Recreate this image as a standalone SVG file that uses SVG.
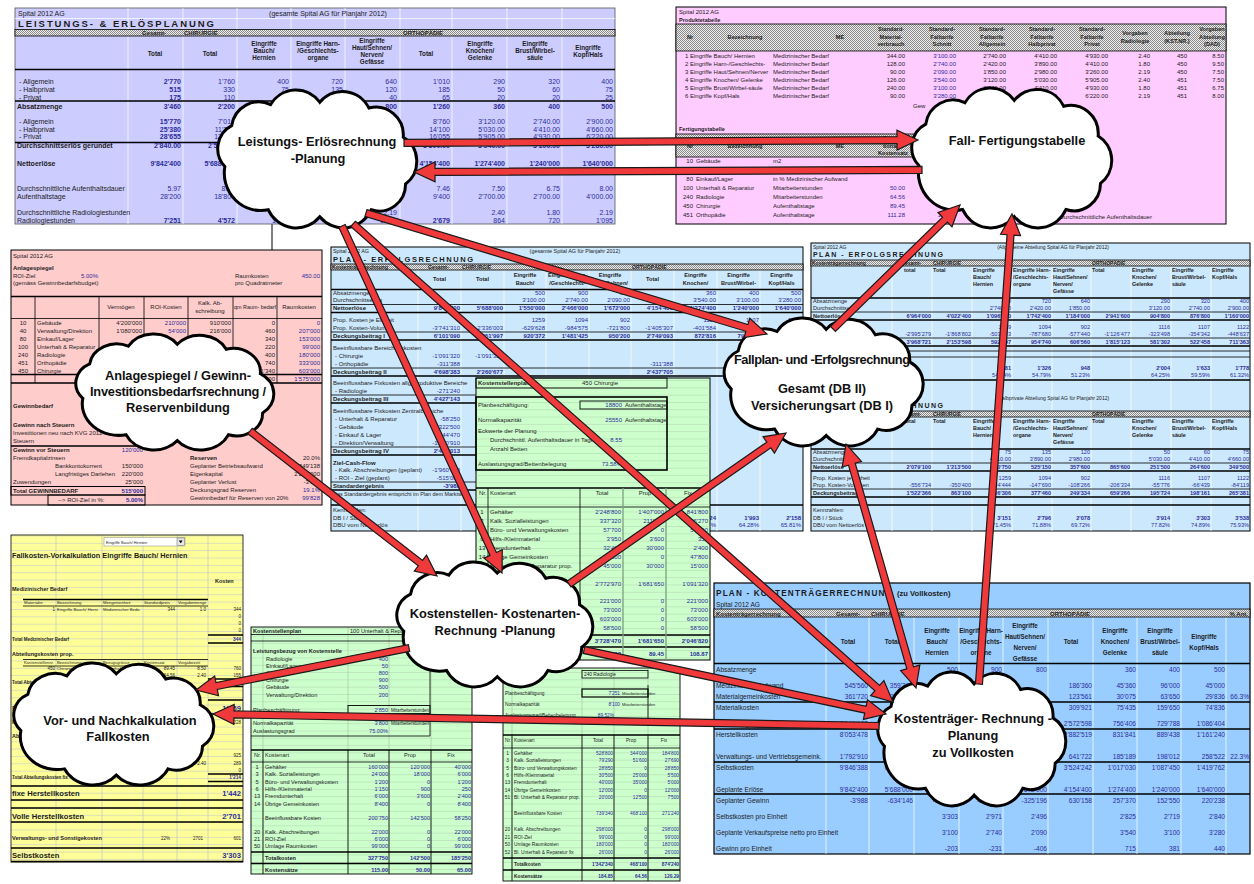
<svg xmlns="http://www.w3.org/2000/svg" width="1254" height="884" viewBox="0 0 1254 884">
<defs>
<style>
text{font-family:"Liberation Sans",Arial,Helvetica,sans-serif;font-size:6px;fill:#1c1c1c}
.s7 text{font-size:7px}
.s6 text{font-size:6px}
.s56 text{font-size:5.6px}
.s55 text{font-size:5.5px}
.s48 text{font-size:4.8px}
.s66 text{font-size:6.6px}
.s58 text{font-size:5.6px}
text.b,tspan.b{font-weight:700}
text.e{text-anchor:end}
text.m{text-anchor:middle}
text.v{fill:#2d2d9b;text-anchor:end}
text.h{font-weight:700;text-anchor:middle;font-size:6.3px}
text.hs{font-weight:700;font-size:5.4px}
text.cl{font-size:12.8px;font-weight:700;text-anchor:middle;fill:#111}
.ar{fill:#f0393b;stroke:#1a1a1a;stroke-width:1.2;stroke-linejoin:miter}
.cloud{fill:#fff;stroke:#000;stroke-width:3;vector-effect:non-scaling-stroke}
.ln{stroke:#000;stroke-width:0.8;fill:none}
.tk{stroke:#000;stroke-width:1.5;fill:none}
.gl{stroke:#fff;stroke-width:0.7;fill:none}
.gg{stroke:#b7bed6;stroke-width:0.6;fill:none}
.gv{stroke:#9fbf9f;stroke-width:0.6;fill:none}
.band{fill:url(#hatch);stroke:#000;stroke-width:0.8}
</style>
<pattern id="hatch" width="2" height="2" patternUnits="userSpaceOnUse"><rect width="2" height="2" fill="#ececec"/><rect width="1" height="1" fill="#8c8c8c"/><rect x="1" y="1" width="1" height="1" fill="#8c8c8c"/></pattern>
<pattern id="yg" x="0" y="535.5" width="300" height="7.35" patternUnits="userSpaceOnUse"><path d="M0 0.3H300" stroke="#b7bed6" stroke-width="0.6"/></pattern>
<pattern id="gg" x="0" y="0.5" width="300" height="7.3" patternUnits="userSpaceOnUse"><path d="M0 0.3H300" stroke="#a9c9a9" stroke-width="0.5"/></pattern>
<path id="cl" class="cloud" d="M22,75 A22,22 0 0 1 28,40 A24,24 0 0 1 62,22 A26,26 0 0 1 105,20 A26,26 0 0 1 148,25 A24,24 0 0 1 178,50 A24,24 0 0 1 180,90 A23,23 0 0 1 150,112 A27,27 0 0 1 105,118 A27,27 0 0 1 60,112 A32,32 0 0 1 22,75 Z"/>
</defs>
<rect width="1254" height="884" fill="#fff"/>
<path d="M272 224V250" stroke="#000" stroke-width="1"/>

<!-- Panel 1: Leistungs- & Erlösplanung -->
<g id="p1" class="s7">
<rect x="15" y="8" width="600" height="216" fill="#ccccff" stroke="#555" stroke-width="0.8"/>
<path class="gl" d="M128 8V224M183 8V224M237 8V224M291 8V224M345 8V224M400 8V224M452 8V224M507 8V224M562 8V224M15 18.5H615"/>
<text x="18" y="15.5">Spital 2012 AG</text>
<text class="m" x="328" y="15.5">(gesamte Spital AG für Planjahr 2012)</text>
<text class="b" x="18" y="27.3" style="font-size:9.5px" textLength="196">LEISTUNGS- &amp; ERLÖSPLANUNG</text>
<rect class="band" x="15" y="29.5" width="600" height="6.5"/>
<text class="b" x="142" y="35" style="font-size:6px">Gesamt-</text>
<text class="b" x="184" y="35" style="font-size:6px">CHIRURGIE</text>
<text class="b" x="403" y="35" style="font-size:6px">ORTHOPÄDIE</text>
<path class="tk" d="M15 69.5H615M15 101H615M15 142.5H615"/>
<text class="h" x="155" y="56">Total</text>
<text class="h" x="210" y="56">Total</text>
<text class="h" x="264" y="46">Eingriffe<tspan x="264" dy="7">Bauch/</tspan><tspan x="264" dy="7">Hernien</tspan></text>
<text class="h" x="318" y="46">Eingriffe Harn-<tspan x="318" dy="7">/Geschlechts-</tspan><tspan x="318" dy="7">organe</tspan></text>
<text class="h" x="372" y="43">Eingriffe<tspan x="372" dy="7">Haut/Sehnen/</tspan><tspan x="372" dy="7">Nerven/</tspan><tspan x="372" dy="7">Gefässe</tspan></text>
<text class="h" x="426" y="56">Total</text>
<text class="h" x="480" y="46">Eingriffe<tspan x="480" dy="7">Knochen/</tspan><tspan x="480" dy="7">Gelenke</tspan></text>
<text class="h" x="535" y="46">Eingriffe<tspan x="535" dy="7">Brust/Wirbel-</tspan><tspan x="535" dy="7">säule</tspan></text>
<text class="h" x="588" y="50">Eingriffe<tspan x="588" dy="7">Kopf/Hals</tspan></text>
<text x="19" y="84">- Allgemein</text>
<text x="19" y="91.5">- Halbprivat</text>
<text x="19" y="99.5">- Privat</text>
<text class="b" x="17" y="109">Absatzmenge</text>
<text x="19" y="124">- Allgemein</text>
<text x="19" y="131.5">- Halbprivat</text>
<text x="19" y="138.5">- Privat</text>
<text class="b" x="17" y="148">Durchschnittserlös gerundet</text>
<text class="b" x="17" y="165.5">Nettoerlöse</text>
<text x="17" y="190.5">Durchschnittliche Aufenthaltsdauer</text>
<text x="17" y="198.5">Aufenthaltstage</text>
<text x="17" y="214.5">Durchschnittliche Radiologiestunden</text>
<text x="17" y="222.5">Radiologiestunden</text>
<text class="v" y="84"><tspan class="b" x="181">2'770</tspan><tspan x="235">1'760</tspan><tspan x="289">400</tspan><tspan x="343">720</tspan><tspan x="397">640</tspan><tspan x="450">1'010</tspan><tspan x="505">290</tspan><tspan x="560">320</tspan><tspan x="613">400</tspan></text>
<text class="v" y="91.5"><tspan class="b" x="181">515</tspan><tspan x="235">330</tspan><tspan x="289">75</tspan><tspan x="343">135</tspan><tspan x="397">120</tspan><tspan x="450">185</tspan><tspan x="505">50</tspan><tspan x="560">60</tspan><tspan x="613">75</tspan></text>
<text class="v" y="99.5"><tspan class="b" x="181">175</tspan><tspan x="235">110</tspan><tspan x="289">25</tspan><tspan x="343">45</tspan><tspan x="397">40</tspan><tspan x="450">65</tspan><tspan x="505">20</tspan><tspan x="560">20</tspan><tspan x="613">25</tspan></text>
<text class="v b" y="109"><tspan x="181">3'460</tspan><tspan x="235">2'200</tspan><tspan x="289">500</tspan><tspan x="343">900</tspan><tspan x="397">800</tspan><tspan x="450">1'260</tspan><tspan x="505">360</tspan><tspan x="560">400</tspan><tspan x="613">500</tspan></text>
<text class="v" y="124"><tspan class="b" x="181">15'770</tspan><tspan x="235">7'010</tspan><tspan x="450">8'760</tspan><tspan x="505">3'120.00</tspan><tspan x="560">2'740.00</tspan><tspan x="613">2'900.00</tspan></text>
<text class="v" y="131.5"><tspan class="b" x="181">25'380</tspan><tspan x="235">11'280</tspan><tspan x="450">14'100</tspan><tspan x="505">5'030.00</tspan><tspan x="560">4'410.00</tspan><tspan x="613">4'660.00</tspan></text>
<text class="v" y="138.5"><tspan class="b" x="181">28'655</tspan><tspan x="235">12'600</tspan><tspan x="450">16'055</tspan><tspan x="505">5'905.00</tspan><tspan x="560">4'930.00</tspan><tspan x="613">6'220.00</tspan></text>
<text class="v b" y="148"><tspan x="181">2'840.00</tspan><tspan x="235">2'590.00</tspan><tspan x="450">3'300.00</tspan><tspan x="505">3'540.00</tspan><tspan x="560">3'100.00</tspan><tspan x="613">3'280.00</tspan></text>
<text class="v b" y="165.5"><tspan x="181">9'842'400</tspan><tspan x="235">5'688'000</tspan><tspan x="450">4'154'400</tspan><tspan x="505">1'274'400</tspan><tspan x="560">1'240'000</tspan><tspan x="613">1'640'000</tspan></text>
<text class="v" y="190.5"><tspan x="181">5.97</tspan><tspan x="235">8.55</tspan><tspan x="450">7.46</tspan><tspan x="505">7.50</tspan><tspan x="560">6.75</tspan><tspan x="613">8.00</tspan></text>
<text class="v" y="198.5"><tspan x="181">28'200</tspan><tspan x="235">18'800</tspan><tspan x="450">9'400</tspan><tspan x="505">2'700.00</tspan><tspan x="560">2'700.00</tspan><tspan x="613">4'000.00</tspan></text>
<text class="v" y="214.5"><tspan x="289">2.40</tspan><tspan x="343">1.80</tspan><tspan x="397">2.19</tspan><tspan x="505">2.40</tspan><tspan x="560">1.80</tspan><tspan x="613">2.19</tspan></text>
<text class="v" y="222.5"><tspan class="b" x="181">7'251</tspan><tspan class="b" x="235">4'572</tspan><tspan x="289">1'200</tspan><tspan x="343">1'620</tspan><tspan x="397">1'752</tspan><tspan class="b" x="450">2'679</tspan><tspan x="505">864</tspan><tspan x="560">720</tspan><tspan x="613">1'095</tspan></text>
</g>

<!-- Panel 2: Produktetabelle / Fertigungstabelle -->
<g id="p2" class="s6">
<rect x="676" y="7" width="550" height="217" fill="#ffccff" stroke="#000" stroke-width="1"/>
<text x="679" y="14">Spital 2012 AG</text>
<text class="b" x="679" y="22" style="font-size:5.5px">Produktetabelle</text>
<rect class="band" x="676" y="24" width="550" height="27"/>
<text class="h" style="font-size:5.6px" x="690" y="39">Nr</text>
<text class="h" style="font-size:5.6px" x="745" y="39">Bezeichnung</text>
<text class="h" style="font-size:5.6px" x="840" y="39">ME</text>
<text class="h" style="font-size:5.6px" x="891" y="31">Standard-<tspan x="891" dy="7.5">Material-</tspan><tspan x="891" dy="7.5">verbrauch</tspan></text>
<text class="h" style="font-size:5.6px" x="942" y="31">Standard-<tspan x="942" dy="7.5">Falltarife</tspan><tspan x="942" dy="7.5">Schnitt</tspan></text>
<text class="h" style="font-size:5.6px" x="992" y="31">Standard-<tspan x="992" dy="7.5">Falltarife</tspan><tspan x="992" dy="7.5">Allgemein</tspan></text>
<text class="h" style="font-size:5.6px" x="1042" y="31">Standard-<tspan x="1042" dy="7.5">Falltarife</tspan><tspan x="1042" dy="7.5">Halbprivat</tspan></text>
<text class="h" style="font-size:5.6px" x="1092" y="31">Standard-<tspan x="1092" dy="7.5">Falltarife</tspan><tspan x="1092" dy="7.5">Privat</tspan></text>
<text class="h" style="font-size:5.6px" x="1135" y="35">Vorgaben<tspan x="1135" dy="7.5">Radiologie</tspan></text>
<text class="h" style="font-size:5.6px" x="1177" y="35">Abteilung<tspan x="1177" dy="7.5">(KST.NR.)</tspan></text>
<text class="h" style="font-size:5.6px" x="1212" y="31">Vorgaben<tspan x="1212" dy="7.5">Abteilung</tspan><tspan x="1212" dy="7.5">(DAD)</tspan></text>
<text x="685" y="58">1 Eingriffe Bauch/ Hernien</text>
<text x="685" y="66">2 Eingriffe Harn-/Geschlechts-</text>
<text x="685" y="74">3 Eingriffe Haut/Sehnen/Nerver</text>
<text x="685" y="82">4 Eingriffe Knochen/ Gelenke</text>
<text x="685" y="90">5 Eingriffe Brust/Wirbel-säule</text>
<text x="685" y="98">6 Eingriffe Kopf/Hals</text>
<text x="773" y="58">Medizinischer Bedarf<tspan x="773" dy="8">Medizinischer Bedarf</tspan><tspan x="773" dy="8">Medizinischer Bedarf</tspan><tspan x="773" dy="8">Medizinischer Bedarf</tspan><tspan x="773" dy="8">Medizinischer Bedarf</tspan><tspan x="773" dy="8">Medizinischer Bedarf</tspan></text>
<text class="e" y="58"><tspan x="905">344.00</tspan><tspan x="1006">2'740.00</tspan><tspan x="1057">4'410.00</tspan><tspan x="1108">4'930.00</tspan><tspan x="1150">2.40</tspan><tspan x="1187">450</tspan><tspan x="1224">8.50</tspan></text>
<text class="e" y="66"><tspan x="905">128.00</tspan><tspan x="1006">2'420.00</tspan><tspan x="1057">3'890.00</tspan><tspan x="1108">4'410.00</tspan><tspan x="1150">1.80</tspan><tspan x="1187">450</tspan><tspan x="1224">9.50</tspan></text>
<text class="e" y="74"><tspan x="905">90.00</tspan><tspan x="1006">1'850.00</tspan><tspan x="1057">2'980.00</tspan><tspan x="1108">3'260.00</tspan><tspan x="1150">2.19</tspan><tspan x="1187">450</tspan><tspan x="1224">7.50</tspan></text>
<text class="e" y="82"><tspan x="905">126.00</tspan><tspan x="1006">3'120.00</tspan><tspan x="1057">5'030.00</tspan><tspan x="1108">5'905.00</tspan><tspan x="1150">2.40</tspan><tspan x="1187">451</tspan><tspan x="1224">7.50</tspan></text>
<text class="e" y="90"><tspan x="905">240.00</tspan><tspan x="1006">2'740.00</tspan><tspan x="1057">4'410.00</tspan><tspan x="1108">4'930.00</tspan><tspan x="1150">1.80</tspan><tspan x="1187">451</tspan><tspan x="1224">6.75</tspan></text>
<text class="e" y="98"><tspan x="905">90.00</tspan><tspan x="1006">2'900.00</tspan><tspan x="1057">4'660.00</tspan><tspan x="1108">6'220.00</tspan><tspan x="1150">2.19</tspan><tspan x="1187">451</tspan><tspan x="1224">8.00</tspan></text>
<text class="v" x="956" y="58">3'100.00<tspan x="956" dy="8">2'740.00</tspan><tspan x="956" dy="8">2'090.00</tspan><tspan x="956" dy="8">3'540.00</tspan><tspan x="956" dy="8">3'100.00</tspan><tspan x="956" dy="8">3'280.00</tspan></text>
<text x="913" y="108">Gew</text>
<text class="b" x="679" y="131" style="font-size:5.5px">Fertigungstabelle</text>
<rect class="band" x="676" y="134" width="290" height="23"/>
<text class="h" style="font-size:5.6px" x="690" y="148">Nr</text>
<text class="h" style="font-size:5.6px" x="745" y="148">Bezeichnung</text>
<text class="h" style="font-size:5.6px" x="840" y="148">ME</text>
<text class="h" style="font-size:5.6px" x="893" y="140">Propor-<tspan x="893" dy="7.5">tionaler</tspan><tspan x="893" dy="7.5">Kostensatz</tspan></text>
<text class="e" x="693" y="163">10<tspan x="693" dy="9">40</tspan><tspan x="693" dy="9">80</tspan><tspan x="693" dy="9">100</tspan><tspan x="693" dy="9">240</tspan><tspan x="693" dy="9">450</tspan><tspan x="693" dy="9">451</tspan></text>
<text x="696" y="163">Gebäude<tspan x="696" dy="9">Verwaltung/Direktion</tspan><tspan x="696" dy="9">Einkauf/Lager</tspan><tspan x="696" dy="9">Unterhalt &amp; Reparatur</tspan><tspan x="696" dy="9">Radiologie</tspan><tspan x="696" dy="9">Chirurgie</tspan><tspan x="696" dy="9">Orthopädie</tspan></text>
<text x="773" y="163">m2<tspan x="773" dy="9">in % Herstellkosten</tspan><tspan x="773" dy="9">in % Medizinischer Aufwand</tspan><tspan x="773" dy="9">Mitarbeiterstunden</tspan><tspan x="773" dy="9">Mitarbeiterstunden</tspan><tspan x="773" dy="9">Aufenthaltstage</tspan><tspan x="773" dy="9">Aufenthaltstage</tspan></text>
<text class="v" x="905" y="190">50.00<tspan x="905" dy="9">64.56</tspan><tspan x="905" dy="9">89.45</tspan><tspan x="905" dy="9">111.28</tspan></text>
<text class="v" x="956" y="172">22.26%<tspan x="956" dy="9">66.30%</tspan><tspan x="956" dy="9">65.00</tspan><tspan x="956" dy="9">120.29</tspan><tspan x="956" dy="9">108.87</tspan><tspan x="956" dy="9">109.72</tspan></text>
<text x="1040" y="219">DAD = Durchschnittliche Aufenthaltsdauer</text>
</g>

<!-- Panel 3: Anlagespiegel -->
<g id="p3" class="s6">
<rect x="11" y="250" width="311" height="255" fill="#ffcccc" stroke="#000" stroke-width="1"/>
<text x="13" y="258">Spital 2012 AG</text>
<text class="b" x="13" y="270">Anlagespiegel</text>
<text x="13" y="277.5">ROI-Ziel</text>
<text class="v" x="98" y="277.5">5.00%</text>
<text x="13" y="285">(gemäss Gewinnbedarfsbudget)</text>
<text x="235" y="277.5">Raumkosten</text>
<text class="v" x="320" y="277.5">450.00</text>
<text x="235" y="285">pro Quadratmeter</text>
<path class="tk" d="M11 296.5H322M11 374.5H322M11 383H322"/>
<path class="ln" d="M11 318.5H322M35 296.5V383M99 296.5V383M144 296.5V383M188 296.5V383M233 296.5V383M277 296.5V383"/>
<text class="m" x="121" y="309">Vermögen</text>
<text class="m" x="166" y="309">ROI-Kosten</text>
<text class="m" x="210" y="305">Kalk. Ab-<tspan x="210" dy="8">schreibung</tspan></text>
<text class="m" x="255" y="309" style="font-size:5.4px">qm Raum- bedarf</text>
<text class="m" x="299" y="309">Raumkosten</text>
<text class="m" x="23" y="324.5">10<tspan x="23" dy="8">40</tspan><tspan x="23" dy="8">80</tspan><tspan x="23" dy="8">100</tspan><tspan x="23" dy="8">240</tspan><tspan x="23" dy="8">451</tspan><tspan x="23" dy="8">450</tspan></text>
<text x="37" y="324.5">Gebäude<tspan x="37" dy="8">Verwaltung/Direktion</tspan><tspan x="37" dy="8">Einkauf/Lager</tspan><tspan x="37" dy="8">Unterhalt &amp; Reparatur</tspan><tspan x="37" dy="8">Radiologie</tspan><tspan x="37" dy="8">Orthopädie</tspan><tspan x="37" dy="8">Chirurgie</tspan></text>
<text class="e" y="324.5"><tspan x="142">4'200'000</tspan><tspan x="231">910'000</tspan><tspan x="275">0</tspan></text>
<text class="e" y="332.5"><tspan x="142">1'080'000</tspan><tspan x="231">216'000</tspan><tspan x="275">460</tspan></text>
<text class="e" x="275" y="340.5">340<tspan x="275" dy="8">220</tspan><tspan x="275" dy="8">400</tspan><tspan x="275" dy="8">740</tspan><tspan x="275" dy="8">1'340</tspan><tspan x="275" dy="8">3'500</tspan></text>
<text class="v" x="186" y="324.5">210'000<tspan x="186" dy="8">54'000</tspan></text>
<text class="v" x="320" y="324.5">0<tspan x="320" dy="8">207'000</tspan><tspan x="320" dy="8">153'000</tspan><tspan x="320" dy="8">99'000</tspan><tspan x="320" dy="8">180'000</tspan><tspan x="320" dy="8">333'000</tspan><tspan x="320" dy="8">603'000</tspan><tspan x="320" dy="8">1'575'000</tspan></text>
<text class="b" x="13" y="408">Gewinnbedarf</text>
<text class="b" x="13" y="427">Gewinn nach Steuern</text>
<text x="13" y="435">Investitionen neu nach KVG 2012</text>
<text x="13" y="443">Steuern</text>
<path class="tk" d="M11 446H144"/>
<text class="b" x="13" y="452">Gewinn vor Steuern</text>
<text class="v" x="143" y="452">120'000</text>
<text x="13" y="460">Fremdkapitalzinsen</text>
<text x="55" y="468">Bankkontokorrent</text>
<text x="55" y="476">Langfristiges Darlehen</text>
<text x="13" y="484">Zuwendungen</text>
<text class="e" x="143" y="468">150'000<tspan x="143" dy="8">220'000</tspan><tspan x="143" dy="8">25'000</tspan></text>
<rect x="11" y="486.5" width="134" height="8.5" fill="none" stroke="#000" stroke-width="1"/>
<text class="b" x="13" y="493">Total GEWINNBEDARF</text>
<text class="v b" x="143" y="493">515'000</text>
<rect x="48" y="495" width="97" height="10" fill="none" stroke="#000" stroke-width="1"/>
<text x="58" y="502">--&gt; ROI-Ziel in %:</text>
<text class="v b" x="143" y="502">5.00%</text>
<text class="b" x="190" y="460">Reserven</text>
<text x="190" y="468">Geplanter Betriebsaufwand</text>
<text x="190" y="476">Eigenkapital</text>
<text x="190" y="484">Geplanter Verlust</text>
<text x="190" y="492">Deckungsgrad Reserven</text>
<text x="190" y="500">Gewinnbedarf für Reserven von  20%</text>
<text class="e" x="320" y="460">20.0%<tspan x="320" dy="8">9'849'138</tspan><tspan x="320" dy="8">2'250'000</tspan><tspan x="320" dy="8">-3'988</tspan></text>
<text class="v" x="320" y="492">19.1%<tspan x="320" dy="8">99'828</tspan></text>
</g>

<!-- Panel 4: Plan-Erfolgsrechnung gesamt -->
<g id="p4" class="s6">
<rect x="331" y="247" width="472" height="284" fill="#cce8fc" stroke="#000" stroke-width="1"/>
<path class="gl" d="M418 270V531M461 270V531M504 270V531M546 270V531M589 270V531M631 270V531M674 270V531M717 270V531M760 270V531"/>
<text x="333" y="252.5" style="font-size:5.4px">Spital 2012 AG</text>
<text class="m" x="575" y="252.5" style="font-size:5.4px">(gesamte Spital AG für Planjahr 2012)</text>
<text class="b" x="333" y="262" style="font-size:7.5px" textLength="140">PLAN - ERFOLGSRECHNUNG</text>
<rect class="band" x="331" y="264" width="472" height="6"/>
<text class="b" x="332" y="268.8" style="font-size:5.2px">Kostenträgerrechnung</text>
<text class="b" x="428" y="268.8" style="font-size:5.2px">Gesamt-</text>
<text class="b" x="462" y="268.8" style="font-size:5.2px">CHIRURGIE</text>
<text class="b" x="632" y="268.8" style="font-size:5.2px">ORTHOPÄDIE</text>
<text class="h" style="font-size:5.6px" x="439.5" y="281">Total</text>
<text class="h" style="font-size:5.6px" x="482.5" y="281">Total</text>
<text class="h" style="font-size:5.6px" x="525" y="277">Eingriffe<tspan x="525" dy="7.5">Bauch/</tspan></text>
<text class="h" style="font-size:5.6px" x="567.5" y="277">Eingriffe Harn-<tspan x="567.5" dy="7.5">/Geschlechts-</tspan></text>
<text class="h" style="font-size:5.6px" x="610" y="277">Eingriffe<tspan x="610" dy="7.5">Haut/Sehnen/</tspan></text>
<text class="h" style="font-size:5.6px" x="652.5" y="281">Total</text>
<text class="h" style="font-size:5.6px" x="695.5" y="277">Eingriffe<tspan x="695.5" dy="7.5">Knochen/</tspan></text>
<text class="h" style="font-size:5.6px" x="738.5" y="277">Eingriffe<tspan x="738.5" dy="7.5">Brust/Wirbel-</tspan></text>
<text class="h" style="font-size:5.6px" x="781.5" y="277">Eingriffe<tspan x="781.5" dy="7.5">Kopf/Hals</tspan></text>
<path class="tk" d="M331 289.5H803M331 312.5H803M331 340H803M331 376H803M331 403H476M331 455H476M331 490H476M331 505H803"/>
<path class="ln" d="M331 304.5H803M331 332H803M331 368H803M331 395H476M331 447H476M331 482H476"/>
<text x="333" y="295">Absatzmenge</text>
<text x="333" y="302">Durchschnittserlös</text>
<text class="b" x="333" y="310">Nettoerlöse</text>
<text x="333" y="322">Prop. Kosten je Einheit</text>
<text x="333" y="330">Prop. Kosten-Volumen</text>
<text class="b" x="333" y="338">Deckungsbeitrag I</text>
<text x="333" y="350">Beeinflussbare Bereichsfixkosten</text>
<text x="335" y="358">- Chirurgie</text>
<text x="335" y="366">- Orthopädie</text>
<text class="b" x="333" y="374">Deckungsbeitrag II</text>
<text x="333" y="385">Beeinflussbare Fixkosten allg. produktive Bereiche</text>
<text x="335" y="393">- Radiologie</text>
<text class="b" x="333" y="401">Deckungsbeitrag III</text>
<text x="333" y="413">Beeinflussbare Fixkosten Zentralbereiche</text>
<text x="335" y="421">- Unterhalt &amp; Reparatur</text>
<text x="335" y="429">- Gebäude</text>
<text x="335" y="437">- Einkauf &amp; Lager</text>
<text x="335" y="445">- Direktion/Verwaltung</text>
<text class="b" x="333" y="453">Deckungsbeitrag IV</text>
<text class="b" x="333" y="465">Ziel-Cash-Flow</text>
<text x="335" y="472">- Kalk. Abschreibungen (geplant)</text>
<text x="335" y="480">- ROI - Ziel (geplant)</text>
<text class="b" x="333" y="488">Standardergebnis</text>
<text x="333" y="496" style="font-size:5.4px">Das Standardergebnis entspricht im Plan dem Marktwert</text>
<text x="333" y="512">Kennzahlen:</text>
<text x="333" y="520">DB I / Stück</text>
<text x="333" y="527">DBU vom Nettoerlös</text>
<text class="v" y="295"><tspan x="545">500</tspan><tspan x="588">900</tspan><tspan x="630">800</tspan><tspan x="716">360</tspan><tspan x="759">400</tspan><tspan x="801">500</tspan></text>
<text class="v" y="302"><tspan x="545">3'100.00</tspan><tspan x="588">2'740.00</tspan><tspan x="630">2'090.00</tspan><tspan x="716">3'540.00</tspan><tspan x="759">3'100.00</tspan><tspan x="801">3'280.00</tspan></text>
<text class="v b" y="310"><tspan x="460">9'842'400</tspan><tspan x="503">5'688'000</tspan><tspan x="545">1'550'000</tspan><tspan x="588">2'466'000</tspan><tspan x="630">1'672'000</tspan><tspan x="673">4'154'400</tspan><tspan x="716">1'274'400</tspan><tspan x="759">1'240'000</tspan><tspan x="801">1'640'000</tspan></text>
<text class="v" y="322"><tspan x="545">1259</tspan><tspan x="588">1094</tspan><tspan x="630">902</tspan><tspan x="716">1116</tspan><tspan x="759">1107</tspan><tspan x="801">1122</tspan></text>
<text class="v" y="330"><tspan x="460">-3'741'310</tspan><tspan x="503">-2'336'003</tspan><tspan x="545">-629'628</tspan><tspan x="588">-984'575</tspan><tspan x="630">-721'800</tspan><tspan x="673">-1'405'307</tspan><tspan x="716">-401'584</tspan><tspan x="759">-442'808</tspan><tspan x="801">-560'915</tspan></text>
<text class="v b" y="338"><tspan x="460">6'101'090</tspan><tspan x="503">3'351'997</tspan><tspan x="545">920'372</tspan><tspan x="588">1'481'425</tspan><tspan x="630">950'200</tspan><tspan x="673">2'749'093</tspan><tspan x="716">872'816</tspan><tspan x="759">797'192</tspan><tspan x="801">1'079'085</tspan></text>
<text class="v" y="358"><tspan x="460">-1'091'320</tspan><tspan x="503">-1'091'320</tspan></text>
<text class="v" y="366"><tspan x="460">-311'388</tspan><tspan x="673">-311'388</tspan></text>
<text class="v b" y="374"><tspan x="460">4'698'383</tspan><tspan x="503">2'260'677</tspan><tspan x="673">2'437'705</tspan></text>
<text class="v" x="460" y="393">-271'240</text>
<text class="v b" x="460" y="401">4'427'143</text>
<text class="v" x="460" y="421">-58'250<tspan x="460" dy="8">-322'500</tspan><tspan x="460" dy="8">-244'470</tspan><tspan x="460" dy="8">-1'330'910</tspan></text>
<text class="v b" x="460" y="453">2'471'013</text>
<text class="v" x="460" y="472">-1'960'000<tspan x="460" y="480">-515'000</tspan></text>
<text class="v b" x="460" y="488">-3'988</text>
<text class="v b" y="520"><tspan x="716">24</tspan><tspan x="759">1'993</tspan><tspan x="801">2'158</tspan></text>
<text class="v" y="527"><tspan x="716">%</tspan><tspan x="759">64.28%</tspan><tspan x="801">65.81%</tspan></text>
</g>

<!-- Panel 5: Kostenstellenplan 450 Chirurgie -->
<g id="p5" class="s6">
<rect x="476" y="378" width="234" height="282" fill="#ccffcc" stroke="#000" stroke-width="1"/>
<rect x="476" y="378" width="234" height="282" fill="url(#gg)"/>
<rect x="476" y="378" width="191" height="10" fill="none" stroke="#000" stroke-width="0.9"/>
<text class="b" x="478" y="385">Kostenstellenplan</text>
<text x="582" y="385">450 Chirurgie</text>
<rect x="476" y="397" width="191" height="73" fill="none" stroke="#000" stroke-width="1.6"/>
<rect x="580" y="401" width="87" height="8" fill="none" stroke="#000" stroke-width="0.9"/>
<text x="478" y="407">Planbeschäftigung:</text>
<text class="v" x="622" y="407">18800<tspan x="622" y="422">25550</tspan></text>
<text x="625" y="407">Aufenthaltstage<tspan x="625" y="422">Aufenthaltstage</tspan></text>
<text x="478" y="422">Normalkapazität</text>
<text x="478" y="433">Eckwerte der Planung</text>
<text x="490" y="442">Durchschnittl. Aufenthaltsdauer in Tagen</text>
<text x="490" y="451">Anzahl Betten</text>
<text class="v" x="622" y="442">8.55</text>
<text x="478" y="466">Auslastungsgrad/Bettenbelegung</text>
<text class="v" x="622" y="466">73.58%</text>
<path class="tk" d="M476 488H710M476 635H710M476 647H710"/>
<path class="ln" d="M476 507H710M488 488V647M580 488V660"/>
<path d="M623 488V660M666 488V660" stroke="#7f9f7f" stroke-width="1.3"/>
<text x="479" y="495">Nr.</text>
<text x="490" y="495">Kostenart</text>
<text class="m" x="602" y="495">Total</text>
<text class="m" x="645" y="495">Prop</text>
<text class="m" x="688" y="495">Fix</text>
<text class="m" x="482" y="514">1<tspan x="482" dy="9">3</tspan><tspan x="482" dy="9">5</tspan><tspan x="482" dy="9">6</tspan><tspan x="482" dy="9">13</tspan><tspan x="482" dy="9">14</tspan><tspan x="482" dy="9">51</tspan></text>
<text x="490" y="514">Gehälter<tspan x="490" dy="9">Kalk. Sozialleistungen</tspan><tspan x="490" dy="9">Büro- und Verwaltungskosten</tspan><tspan x="490" dy="9">Hilfs-/Kleinmaterial</tspan><tspan x="490" dy="9">Fremdunterhalt</tspan><tspan x="490" dy="9">Übrige Gemeinkosten</tspan><tspan x="490" dy="9">Bl. Unterhalt &amp; Reparatur prop.</tspan></text>
<text class="v" x="621" y="514">2'248'800<tspan x="621" dy="9">337'320</tspan><tspan x="621" dy="9">57'700</tspan><tspan x="621" dy="9">3'950</tspan><tspan x="621" dy="9">32'400</tspan><tspan x="621" dy="9">47'800</tspan><tspan x="621" dy="9">45'000</tspan></text>
<text class="v" x="664" y="514">1'407'000<tspan x="664" dy="9">211'050</tspan><tspan x="664" dy="9">0</tspan><tspan x="664" dy="9">3'600</tspan><tspan x="664" dy="9">30'000</tspan><tspan x="664" dy="9">0</tspan><tspan x="664" dy="9">30'000</tspan></text>
<text class="v" x="708" y="514">841'800<tspan x="708" dy="9">126'270</tspan><tspan x="708" dy="9">57'700</tspan><tspan x="708" dy="9">350</tspan><tspan x="708" dy="9">2'400</tspan><tspan x="708" dy="9">47'800</tspan><tspan x="708" dy="9">15'000</tspan></text>
<text x="490" y="586">Beeinflussbare Kosten</text>
<text class="v" y="586"><tspan x="621">2'772'970</tspan><tspan x="664">1'681'650</tspan><tspan x="708">1'091'320</tspan></text>
<text class="m" x="482" y="603">20<tspan x="482" dy="9">21</tspan><tspan x="482" dy="9">50</tspan><tspan x="482" dy="9">52</tspan></text>
<text x="490" y="603">Kalk. Abschreibungen<tspan x="490" dy="9">ROI-Ziel</tspan><tspan x="490" dy="9">Umlage Raumkosten</tspan><tspan x="490" dy="9">Bl. Unterhalt &amp; Reparatur fix</tspan></text>
<text class="v" x="621" y="603">221'000<tspan x="621" dy="9">73'000</tspan><tspan x="621" dy="9">603'000</tspan><tspan x="621" dy="9">58'500</tspan></text>
<text class="v" x="664" y="603">0<tspan x="664" dy="9">0</tspan><tspan x="664" dy="9">0</tspan><tspan x="664" dy="9">0</tspan></text>
<text class="v" x="708" y="603">221'000<tspan x="708" dy="9">73'000</tspan><tspan x="708" dy="9">603'000</tspan><tspan x="708" dy="9">58'500</tspan></text>
<text class="b" x="490" y="643">Totalkosten</text>
<text class="v b" y="643"><tspan x="621">3'728'470</tspan><tspan x="664">1'681'650</tspan><tspan x="708">2'046'820</tspan></text>
<text class="b" x="490" y="656">Kostensätze</text>
<text class="v b" y="656"><tspan x="621">198.32</tspan><tspan x="664">89.45</tspan><tspan x="708">108.87</tspan></text>
</g>

<!-- Panel 6: Plan-Erfolgsrechnung Allgemein / Halbprivat -->
<g id="p6" class="s58">
<rect x="811" y="243" width="439" height="288" fill="#cce8fc" stroke="#000" stroke-width="1"/>
<path class="gl" d="M892 266V531M932 266V531M972 266V531M1012 266V531M1052 266V531M1091 266V531M1131 266V531M1171 266V531M1211 266V531"/>
<text x="813" y="248.5" style="font-size:5px">Spital 2012 AG</text>
<text class="m" x="1053" y="248.5" style="font-size:5px">(Allgemeine Abteilung Spital AG für Planjahr 2012)</text>
<text class="b" x="813" y="257" style="font-size:7px" textLength="130">PLAN - ERFOLGSRECHNUNG</text>
<rect class="band" x="811" y="260" width="439" height="6"/>
<text class="b" x="812" y="264.8" style="font-size:5px">Kostenträgerrechnung</text>
<text class="b" x="901" y="264.8" style="font-size:5px">Gesamt-</text>
<text class="b" x="933" y="264.8" style="font-size:5px">CHIRURGIE</text>
<text class="b" x="1092" y="264.8" style="font-size:5px">ORTHOPÄDIE</text>
<text class="hs" x="904" y="272">total</text>
<text class="hs" x="933" y="272">Total</text>
<text class="hs" x="973" y="272">Eingriffe<tspan x="973" dy="7">Bauch/</tspan><tspan x="973" dy="7">Hernien</tspan></text>
<text class="hs" x="1013" y="272">Eingriffe Harn-<tspan x="1013" dy="7">/Geschlechts-</tspan><tspan x="1013" dy="7">organe</tspan></text>
<text class="hs" x="1053" y="272">Eingriffe<tspan x="1053" dy="7">Haut/Sehnen/</tspan><tspan x="1053" dy="7">Nerven/</tspan><tspan x="1053" dy="7">Gefässe</tspan></text>
<text class="hs" x="1092" y="272">Total</text>
<text class="hs" x="1132" y="272">Eingriffe<tspan x="1132" dy="7">Knochen/</tspan><tspan x="1132" dy="7">Gelenke</tspan></text>
<text class="hs" x="1172" y="272">Eingriffe<tspan x="1172" dy="7">Brust/Wirbel-</tspan><tspan x="1172" dy="7">säule</tspan></text>
<text class="hs" x="1212" y="272">Eingriffe<tspan x="1212" dy="7">Kopf/Hals</tspan></text>
<path class="tk" d="M811 298H1250M811 320H1250M811 346H1250M811 380H1250M811 449H1250M811 471H1250M811 497H1250M811 505H1250"/>
<path class="ln" d="M811 312H1250M811 338H1250M811 351H1250M811 357H1250M811 463H1250M811 489H1250"/>
<text x="813" y="303">Absatzmenge</text>
<text x="813" y="310">Durchschnittserlös</text>
<text class="b" x="813" y="318">Nettoerlöse</text>
<text class="v" y="303"><tspan x="1011">400</tspan><tspan x="1051">720</tspan><tspan x="1090">640</tspan><tspan x="1170">290</tspan><tspan x="1210">320</tspan><tspan x="1249">400</tspan></text>
<text class="v" y="310"><tspan x="1011">2'740.00</tspan><tspan x="1051">2'420.00</tspan><tspan x="1090">1'850.00</tspan><tspan x="1170">3'120.00</tspan><tspan x="1210">2'740.00</tspan><tspan x="1249">2'900.00</tspan></text>
<text class="v b" y="318"><tspan x="931">6'964'000</tspan><tspan x="971">4'022'400</tspan><tspan x="1011">1'096'000</tspan><tspan x="1051">1'742'400</tspan><tspan x="1090">1'184'000</tspan><tspan x="1130">2'941'600</tspan><tspan x="1170">904'800</tspan><tspan x="1210">876'800</tspan><tspan x="1249">1'160'000</tspan></text>
<text class="v" y="329"><tspan x="1011">1259</tspan><tspan x="1051">1094</tspan><tspan x="1090">902</tspan><tspan x="1170">1116</tspan><tspan x="1210">1107</tspan><tspan x="1249">1122</tspan></text>
<text class="v" y="336"><tspan x="931">-2'995'279</tspan><tspan x="971">-1'868'802</tspan><tspan x="1011">-503'703</tspan><tspan x="1051">-787'680</tspan><tspan x="1090">-577'440</tspan><tspan x="1130">-1'126'477</tspan><tspan x="1170">-323'498</tspan><tspan x="1210">-354'342</tspan><tspan x="1249">-448'637</tspan></text>
<text class="v b" y="344"><tspan x="931">3'968'721</tspan><tspan x="971">2'153'598</tspan><tspan x="1011">592'297</tspan><tspan x="1051">954'740</tspan><tspan x="1090">606'560</tspan><tspan x="1130">1'815'123</tspan><tspan x="1170">581'302</tspan><tspan x="1210">522'458</tspan><tspan x="1249">711'363</tspan></text>
<text class="v b" y="370"><tspan x="1011">1'481</tspan><tspan x="1051">1'326</tspan><tspan x="1090">948</tspan><tspan x="1170">2'004</tspan><tspan x="1210">1'633</tspan><tspan x="1249">1'778</tspan></text>
<text class="v" y="377"><tspan x="1011">54.04%</tspan><tspan x="1051">54.79%</tspan><tspan x="1090">51.23%</tspan><tspan x="1170">64.25%</tspan><tspan x="1210">59.59%</tspan><tspan x="1249">61.32%</tspan></text>
<text class="m" x="1053" y="400" style="font-size:5px">(Halbprivate Abteilung Spital AG für Planjahr 2012)</text>
<text class="b" x="813" y="408" style="font-size:7px" textLength="130">PLAN - ERFOLGSRECHNUNG</text>
<rect class="band" x="811" y="411" width="439" height="6"/>
<text class="b" x="901" y="415.8" style="font-size:5px">Gesamt-</text>
<text class="b" x="933" y="415.8" style="font-size:5px">CHIRURGIE</text>
<text class="b" x="1092" y="415.8" style="font-size:5px">ORTHOPÄDIE</text>
<text class="hs" x="904" y="423">total</text>
<text class="hs" x="933" y="423">Total</text>
<text class="hs" x="973" y="423">Eingriffe<tspan x="973" dy="7">Bauch/</tspan><tspan x="973" dy="7">Hernien</tspan></text>
<text class="hs" x="1013" y="423">Eingriffe Harn-<tspan x="1013" dy="7">/Geschlechts-</tspan><tspan x="1013" dy="7">organe</tspan></text>
<text class="hs" x="1053" y="423">Eingriffe<tspan x="1053" dy="7">Haut/Sehnen/</tspan><tspan x="1053" dy="7">Nerven/</tspan><tspan x="1053" dy="7">Gefässe</tspan></text>
<text class="hs" x="1092" y="423">Total</text>
<text class="hs" x="1132" y="423">Eingriffe<tspan x="1132" dy="7">Knochen/</tspan><tspan x="1132" dy="7">Gelenke</tspan></text>
<text class="hs" x="1172" y="423">Eingriffe<tspan x="1172" dy="7">Brust/Wirbel-</tspan><tspan x="1172" dy="7">säule</tspan></text>
<text class="hs" x="1212" y="423">Eingriffe<tspan x="1212" dy="7">Kopf/Hals</tspan></text>
<text x="813" y="454">Absatzmenge</text>
<text x="813" y="461">Durchschnittserlös</text>
<text class="b" x="813" y="469">Nettoerlöse</text>
<text x="813" y="480">Prop. Kosten je Einheit</text>
<text x="813" y="487">Prop. Kosten-Volumen</text>
<text class="b" x="813" y="495">Deckungsbeitrag I</text>
<text x="813" y="512">Kennzahlen:</text>
<text x="813" y="520">DB I / Stück</text>
<text x="813" y="527">DBU vom Nettoerlös</text>
<text class="v" y="454"><tspan x="1011">75</tspan><tspan x="1051">135</tspan><tspan x="1090">120</tspan><tspan x="1170">50</tspan><tspan x="1210">60</tspan><tspan x="1249">75</tspan></text>
<text class="v" y="461"><tspan x="1011">4'410.00</tspan><tspan x="1051">3'890.00</tspan><tspan x="1090">2'980.00</tspan><tspan x="1170">5'030.00</tspan><tspan x="1210">4'410.00</tspan><tspan x="1249">4'660.00</tspan></text>
<text class="v b" y="469"><tspan x="931">2'079'100</tspan><tspan x="971">1'213'500</tspan><tspan x="1011">330'750</tspan><tspan x="1051">525'150</tspan><tspan x="1090">357'600</tspan><tspan x="1130">865'600</tspan><tspan x="1170">251'500</tspan><tspan x="1210">264'600</tspan><tspan x="1249">349'500</tspan></text>
<text class="v" y="480"><tspan x="1011">1259</tspan><tspan x="1051">1094</tspan><tspan x="1090">902</tspan><tspan x="1170">1116</tspan><tspan x="1210">1107</tspan><tspan x="1249">1122</tspan></text>
<text class="v" y="487"><tspan x="931">-556'734</tspan><tspan x="971">-350'400</tspan><tspan x="1011">-94'444</tspan><tspan x="1051">-147'690</tspan><tspan x="1090">-108'266</tspan><tspan x="1130">-206'334</tspan><tspan x="1170">-55'776</tspan><tspan x="1210">-66'439</tspan><tspan x="1249">-84'119</tspan></text>
<text class="v b" y="495"><tspan x="931">1'522'366</tspan><tspan x="971">863'100</tspan><tspan x="1011">236'306</tspan><tspan x="1051">377'460</tspan><tspan x="1090">249'334</tspan><tspan x="1130">659'266</tspan><tspan x="1170">195'724</tspan><tspan x="1210">198'161</tspan><tspan x="1249">265'381</tspan></text>
<text class="v b" y="520"><tspan x="1011">3'151</tspan><tspan x="1051">2'796</tspan><tspan x="1090">2'078</tspan><tspan x="1170">3'914</tspan><tspan x="1210">3'303</tspan><tspan x="1249">3'538</tspan></text>
<text class="v" y="527"><tspan x="1011">71.45%</tspan><tspan x="1051">71.88%</tspan><tspan x="1090">69.72%</tspan><tspan x="1170">77.82%</tspan><tspan x="1210">74.89%</tspan><tspan x="1249">75.93%</tspan></text>
</g>

<!-- Panel 7: Fallkosten-Vorkalkulation -->
<g id="p7" class="s55">
<rect x="11" y="535" width="232" height="327" fill="#ffff99"/>
<rect x="11" y="535" width="232" height="327" fill="url(#yg)"/>
<path class="gg" d="M56 535V862M102 535V862M143 535V862M177 535V862M208 535V862"/>
<rect x="11" y="535" width="232" height="327" fill="none" stroke="#000" stroke-width="0.8"/>
<rect x="104" y="537.5" width="81" height="8.5" fill="#fff" stroke="#888" stroke-width="0.5"/>
<text x="106" y="543.5" style="font-size:3.8px">Eingriffe Bauch/ Hernien</text>
<rect x="177" y="538" width="7.5" height="7.5" fill="#e8e8e8" stroke="#666" stroke-width="0.5"/>
<path d="M178.7 540.5h4l-2 2.8z" fill="#000"/>
<text class="b" x="12" y="557.5" style="font-size:7.3px">Fallkosten-Vorkalkulation Eingriffe Bauch/ Hernien</text>
<text class="b" x="215" y="583">Kosten</text>
<text class="b" x="12" y="591">Medizinischer Bedarf</text>
<path class="tk" d="M23 599.5H208"/>
<path class="ln" d="M23 606H208M23 659.5H208M23 666H208"/>
<text y="604" style="font-size:4.2px"><tspan x="24">Materialnr.</tspan><tspan x="57">Bezeichnung</tspan><tspan x="103">Mengeneinheit</tspan><tspan x="144">Standardpreis</tspan><tspan x="178">Vorgabemenge</tspan></text>
<text x="57" y="611" style="font-size:4.2px">Eingriffe Bauch/ Herni</text>
<text x="103" y="611" style="font-size:4.2px">Medizinischer Beda</text>
<text class="e" y="611" style="font-size:4.5px"><tspan x="55">1</tspan><tspan x="175">344</tspan><tspan x="206">1.0</tspan><tspan x="241">344</tspan></text>
<text class="e" x="241" y="618" style="font-size:4.5px">0<tspan x="241" dy="7">0</tspan><tspan x="241" dy="7">0</tspan></text>
<path class="tk" d="M208 635H243M208 643H243M208 679H243M208 686.5H243M208 700H243M208 714H243M208 774H243M208 781.5H243M11 786H243M11 800H243M11 808H243M11 822H243M11 848H243M11 861.5H243"/>
<text class="b" x="12" y="640.5" style="font-size:4.5px">Total Medizinischer Bedarf</text>
<text class="v b" x="241" y="640.5" style="font-size:4.8px">344</text>
<text class="b" x="12" y="656">Abteilungskosten prop.</text>
<text y="664" style="font-size:4.2px"><tspan x="24">Kostenstellennr.</tspan><tspan x="57">Bezeichnung</tspan><tspan x="103">Bezugsgrösse</tspan><tspan x="144">Kostensatz</tspan><tspan x="178">Vorgabezeit</tspan></text>
<text x="57" y="670" style="font-size:4.2px">Chirurgie<tspan x="57" dy="7">Radiologie</tspan></text>
<text x="103" y="670" style="font-size:4.2px">Aufenthaltstage<tspan x="103" dy="7">Mitarbeiterstunden</tspan></text>
<text class="e" y="670" style="font-size:4.5px"><tspan x="55">450</tspan><tspan x="175">89.45</tspan><tspan x="206">8.50</tspan><tspan x="241">760</tspan></text>
<text class="e" y="677" style="font-size:4.5px"><tspan x="55">240</tspan><tspan x="175">64.56</tspan><tspan x="206">2.40</tspan><tspan x="241">155</tspan></text>
<text class="b" x="12" y="684" style="font-size:4.5px">Total Abteilungskosten prop.</text>
<text class="v b" x="241" y="684" style="font-size:4.8px">915</text>
<text class="b" x="12" y="710.5" style="font-size:7.6px">Proportionale Herstellkosten</text>
<text class="v b" x="241" y="710.5" style="font-size:7.6px">1'259</text>
<text class="b" x="12" y="724" style="font-size:5px">Materialgemeinkosten</text>
<text class="e" x="241" y="724" style="font-size:4.5px">228</text>
<text class="b" x="12" y="738">Abteilungskosten fix</text>
<text class="e" x="241" y="757" style="font-size:4.5px">925</text>
<text class="e" y="764.5" style="font-size:4.5px"><tspan x="206">2.40</tspan><tspan x="241">289</tspan></text>
<text class="e" x="241" y="771.5" style="font-size:4.5px">0</text>
<text class="b" x="12" y="779" style="font-size:4.5px">Total Abteilungskosten fix</text>
<text class="v b" x="241" y="779" style="font-size:4.8px">1'214</text>
<text class="b" x="12" y="796" style="font-size:7.6px">fixe Herstellkosten</text>
<text class="v b" x="241" y="796" style="font-size:7.6px">1'442</text>
<text class="b" x="12" y="818.5" style="font-size:7.6px">Volle Herstellkosten</text>
<text class="v b" x="241" y="818.5" style="font-size:7.6px">2'701</text>
<text class="b" x="12" y="840" style="font-size:5.6px">Verwaltungs- und Sonstigekosten</text>
<text class="e" y="840" style="font-size:4.5px"><tspan x="170">22%</tspan><tspan x="203">2701</tspan><tspan x="241">601</tspan></text>
<text class="b" x="12" y="858" style="font-size:7.6px">Selbstkosten</text>
<text class="v b" x="241" y="858" style="font-size:7.6px">3'303</text>
</g>

<!-- Panel 8: Kostenstellenplan 100 Unterhalt & Reparatur -->
<g id="p8" class="s56">
<rect x="251" y="627" width="221" height="247" fill="#ccffcc"/>
<rect x="251" y="627" width="221" height="247" fill="url(#gg)"/>
<path class="gv" d="M263 627V874M348 627V874M389 627V874M431 627V874"/>
<rect x="251" y="627" width="221" height="247" fill="none" stroke="#000" stroke-width="0.9"/>
<path class="ln" d="M251 634.5H472M251 641H472M430 641V736M251 736H430M251 762H472M263 750V874M348 750V874M389 750V874M431 750V874"/>
<path class="tk" d="M251 750H472M251 852H472M251 863.5H472"/>
<text class="b" x="253" y="633">Kostenstellenplan</text>
<text x="350" y="633">100 Unterhalt &amp; Reparatur</text>
<text class="b" x="253" y="653">Leistungsbezug von Kostenstelle</text>
<text x="266" y="661">Radiologie<tspan x="266" dy="7">Einkauf/Lager</tspan><tspan x="266" dy="7">Orthopädie</tspan><tspan x="266" dy="7">Chirurgie</tspan><tspan x="266" dy="7">Gebäude</tspan><tspan x="266" dy="7.5">Verwaltung/Direktion</tspan></text>
<text class="v" x="388" y="661">400<tspan x="388" dy="7">50</tspan><tspan x="388" dy="7">800</tspan><tspan x="388" dy="7">900</tspan><tspan x="388" dy="7">500</tspan><tspan x="388" dy="7.5">200</tspan></text>
<rect x="348" y="705.5" width="82" height="8" fill="none" stroke="#000" stroke-width="0.9"/>
<text x="253" y="711.5">Planbeschäftigung:</text>
<text class="v" x="388" y="711.5">2'850<tspan x="388" y="725">3'800</tspan><tspan x="388" y="733">75.00%</tspan></text>
<text x="391" y="711.5" style="font-size:4.6px">Mitarbeiterstunden<tspan x="391" y="725">Mitarbeiterstunden</tspan></text>
<text x="253" y="725">Normalkapazität</text>
<text x="253" y="733">Auslastungsgrad</text>
<text x="254" y="757">Nr.</text>
<text x="265" y="757">Kostenart</text>
<text class="m" x="369" y="757">Total</text>
<text class="m" x="410" y="757">Prop</text>
<text class="m" x="451" y="757">Fix</text>
<text class="m" x="257" y="769">1<tspan x="257" dy="7.3">3</tspan><tspan x="257" dy="7.3">5</tspan><tspan x="257" dy="7.3">6</tspan><tspan x="257" dy="7.3">13</tspan><tspan x="257" dy="7.3">14</tspan></text>
<text x="265" y="769">Gehälter<tspan x="265" dy="7.3">Kalk. Sozialleistungen</tspan><tspan x="265" dy="7.3">Büro- und Verwaltungskosten</tspan><tspan x="265" dy="7.3">Hilfs-/Kleinmaterial</tspan><tspan x="265" dy="7.3">Fremdunterhalt</tspan><tspan x="265" dy="7.3">Übrige Gemeinkosten</tspan></text>
<text class="v" x="388" y="769">160'000<tspan x="388" dy="7.3">24'000</tspan><tspan x="388" dy="7.3">1'200</tspan><tspan x="388" dy="7.3">1'150</tspan><tspan x="388" dy="7.3">6'000</tspan><tspan x="388" dy="7.3">8'400</tspan></text>
<text class="v" x="430" y="769">120'000<tspan x="430" dy="7.3">18'000</tspan><tspan x="430" dy="7.3">0</tspan><tspan x="430" dy="7.3">900</tspan><tspan x="430" dy="7.3">3'600</tspan><tspan x="430" dy="7.3">0</tspan></text>
<text class="v" x="471" y="769">40'000<tspan x="471" dy="7.3">6'000</tspan><tspan x="471" dy="7.3">1'200</tspan><tspan x="471" dy="7.3">250</tspan><tspan x="471" dy="7.3">2'400</tspan><tspan x="471" dy="7.3">8'400</tspan></text>
<text x="265" y="820">Beeinflussbare Kosten</text>
<text class="v" y="820"><tspan x="388">200'750</tspan><tspan x="430">142'500</tspan><tspan x="471">58'250</tspan></text>
<text class="m" x="257" y="834">20<tspan x="257" dy="7">21</tspan><tspan x="257" dy="7">50</tspan></text>
<text x="265" y="834">Kalk. Abschreibungen<tspan x="265" dy="7">ROI-Ziel</tspan><tspan x="265" dy="7">Umlage Raumkosten</tspan></text>
<text class="v" x="388" y="834">22'000<tspan x="388" dy="7">6'000</tspan><tspan x="388" dy="7">99'000</tspan></text>
<text class="v" x="430" y="834">0<tspan x="430" dy="7">0</tspan><tspan x="430" dy="7">0</tspan></text>
<text class="v" x="471" y="834">22'000<tspan x="471" dy="7">6'000</tspan><tspan x="471" dy="7">99'000</tspan></text>
<text class="b" x="265" y="859.5">Totalkosten</text>
<text class="v b" y="859.5"><tspan x="388">327'750</tspan><tspan x="430">142'500</tspan><tspan x="471">185'250</tspan></text>
<text class="b" x="265" y="871.5">Kostensätze</text>
<text class="v b" y="871.5"><tspan x="388">115.00</tspan><tspan x="430">50.00</tspan><tspan x="471">65.00</tspan></text>
</g>

<!-- Panel 9: Kostenstellenplan 240 Radiologie -->
<g id="p9" class="s48">
<rect x="503" y="668" width="177" height="213" fill="#ccffcc"/>
<rect x="503" y="668" width="177" height="213" fill="url(#gg)"/>
<path class="gv" d="M512 668V881M582 668V881M614 668V881M648 668V881"/>
<rect x="503" y="668" width="177" height="213" fill="none" stroke="#000" stroke-width="0.9"/>
<rect x="582" y="670.5" width="66" height="7.5" fill="none" stroke="#000" stroke-width="0.8"/>
<text x="584" y="676">240 Radiologie</text>
<rect x="582" y="689" width="66" height="8" fill="none" stroke="#000" stroke-width="1.2"/>
<path class="ln" d="M503 720.5H648M648 685V720.5M512 735V881M582 735V881M614 735V881M648 735V881M503 748H680"/>
<path class="tk" d="M503 735H680M503 858H680M503 870H680"/>
<text x="505" y="694.5">Planbeschäftigung</text>
<text x="505" y="706">Normalkapazität</text>
<text x="505" y="717">Auslastungsgrad/Bettenbelegung</text>
<text class="v" x="620" y="694.5">7'251<tspan x="620" y="706">8'100</tspan><tspan x="614" y="717">89.52%</tspan></text>
<text x="622" y="694.5" style="font-size:4px">Mitarbeiterstunden<tspan x="622" y="706">Mitarbeiterstunden</tspan></text>
<text x="505" y="742">Nr.</text>
<text x="514" y="742">Kostenart</text>
<text class="m" x="598" y="742">Total</text>
<text class="m" x="631" y="742">Prop</text>
<text class="m" x="664" y="742">Fix</text>
<text class="m" x="507.5" y="755">1<tspan x="507.5" dy="7.3">3</tspan><tspan x="507.5" dy="7.3">5</tspan><tspan x="507.5" dy="7.3">6</tspan><tspan x="507.5" dy="7.3">13</tspan><tspan x="507.5" dy="7.3">14</tspan><tspan x="507.5" dy="7.3">51</tspan></text>
<text x="514" y="755">Gehälter<tspan x="514" dy="7.3">Kalk. Sozialleistungen</tspan><tspan x="514" dy="7.3">Büro- und Verwaltungskosten</tspan><tspan x="514" dy="7.3">Hilfs-/Kleinmaterial</tspan><tspan x="514" dy="7.3">Fremdunterhalt</tspan><tspan x="514" dy="7.3">Übrige Gemeinkosten</tspan><tspan x="514" dy="7.3">Bl. Unterhalt &amp; Reparatur prop.</tspan></text>
<text class="v" x="613" y="755">528'800<tspan x="613" dy="7.3">79'290</tspan><tspan x="613" dy="7.3">28'850</tspan><tspan x="613" dy="7.3">30'500</tspan><tspan x="613" dy="7.3">40'000</tspan><tspan x="613" dy="7.3">12'000</tspan><tspan x="613" dy="7.3">20'000</tspan></text>
<text class="v" x="647" y="755">344'000<tspan x="647" dy="7.3">51'600</tspan><tspan x="647" dy="7.3">0</tspan><tspan x="647" dy="7.3">25'000</tspan><tspan x="647" dy="7.3">35'000</tspan><tspan x="647" dy="7.3">0</tspan><tspan x="647" dy="7.3">12'500</tspan></text>
<text class="v" x="679" y="755">184'800<tspan x="679" dy="7.3">27'690</tspan><tspan x="679" dy="7.3">28'850</tspan><tspan x="679" dy="7.3">5'500</tspan><tspan x="679" dy="7.3">5'000</tspan><tspan x="679" dy="7.3">12'000</tspan><tspan x="679" dy="7.3">7'500</tspan></text>
<text x="514" y="815">Beeinflussbare Kosten</text>
<text class="v" y="815"><tspan x="613">739'340</tspan><tspan x="647">468'100</tspan><tspan x="679">271'240</tspan></text>
<text class="m" x="507.5" y="831">20<tspan x="507.5" dy="7.5">21</tspan><tspan x="507.5" dy="7.5">50</tspan><tspan x="507.5" dy="7.5">52</tspan></text>
<text x="514" y="831">Kalk. Abschreibungen<tspan x="514" dy="7.5">ROI-Ziel</tspan><tspan x="514" dy="7.5">Umlage Raumkosten</tspan><tspan x="514" dy="7.5">Bl. Unterhalt &amp; Reparatur fix</tspan></text>
<text class="v" x="613" y="831">298'000<tspan x="613" dy="7.5">99'000</tspan><tspan x="613" dy="7.5">180'000</tspan><tspan x="613" dy="7.5">26'000</tspan></text>
<text class="v" x="647" y="831">0<tspan x="647" dy="7.5">0</tspan><tspan x="647" dy="7.5">0</tspan><tspan x="647" dy="7.5">0</tspan></text>
<text class="v" x="679" y="831">298'000<tspan x="679" dy="7.5">99'000</tspan><tspan x="679" dy="7.5">180'000</tspan><tspan x="679" dy="7.5">26'000</tspan></text>
<text class="b" x="514" y="866">Totalkosten</text>
<text class="v b" y="866"><tspan x="613">1'342'340</tspan><tspan x="647">468'100</tspan><tspan x="679">874'240</tspan></text>
<text class="b" x="514" y="878">Kostensätze</text>
<text class="v b" y="878"><tspan x="613">184.85</tspan><tspan x="647">64.56</tspan><tspan x="679">120.29</tspan></text>
</g>

<!-- Panel 10: Plan-Kostenträgerrechnung zu Vollkosten -->
<g id="p10" class="s66">
<rect x="714" y="583" width="536" height="271" fill="#99ccff" stroke="#000" stroke-width="1.2"/>
<path class="gl" d="M826 617V854M869 617V854M914 617V854M959 617V854M1003 617V854M1048 617V854M1093 617V854M1137 617V854M1181 617V854M1226 617V854"/>
<text class="b" x="716" y="596" style="font-size:8.2px" textLength="176">PLAN - KOSTENTRÄGERRECHNUNG</text>
<text class="b" x="897" y="596" style="font-size:7.6px">(zu Vollkosten)</text>
<text x="716" y="606.5">Spital 2012 AG</text>
<rect class="band" x="714" y="609" width="536" height="8"/>
<text class="b" x="716" y="615.5" style="font-size:6px">Kostenträgerrechnung</text>
<text class="b" x="836" y="615.5" style="font-size:6px">Gesamt-</text>
<text class="b" x="871" y="615.5" style="font-size:6px">CHIRURGIE</text>
<text class="b" x="1050" y="615.5" style="font-size:6px">ORTHOPÄDIE</text>
<text class="b e" x="1248" y="615.5" style="font-size:6px">% Ant.</text>
<text class="h" x="848" y="643.5">Total</text>
<text class="h" x="892" y="643.5">Total</text>
<text class="h" x="937" y="632.5">Eingriffe<tspan x="937" dy="11">Bauch/</tspan><tspan x="937" dy="11">Hernien</tspan></text>
<text class="h" x="981" y="632.5">Eingriffe Harn-<tspan x="981" dy="11">/Geschlechts-</tspan><tspan x="981" dy="11">organe</tspan></text>
<text class="h" x="1025" y="627.5">Eingriffe<tspan x="1025" dy="11">Haut/Sehnen/</tspan><tspan x="1025" dy="11">Nerven/</tspan><tspan x="1025" dy="11">Gefässe</tspan></text>
<text class="h" x="1071" y="643.5">Total</text>
<text class="h" x="1115" y="632.5">Eingriffe<tspan x="1115" dy="11">Knochen/</tspan><tspan x="1115" dy="11">Gelenke</tspan></text>
<text class="h" x="1160" y="632.5">Eingriffe<tspan x="1160" dy="11">Brust/Wirbel-</tspan><tspan x="1160" dy="11">säule</tspan></text>
<text class="h" x="1204" y="638.5">Eingriffe<tspan x="1204" dy="11">Kopf/Hals</tspan></text>
<path class="tk" d="M714 663.5H1250M714 702H1250M714 729H1250M714 762H1250M714 794H1250"/>
<text x="716" y="671.5">Absatzmenge</text>
<text x="716" y="688">Medizinischer Aufwand</text>
<text x="716" y="699">Materialgemeinkosten</text>
<text x="716" y="710">Materialkosten</text>
<text x="716" y="726">Volle Fertigungskosten</text>
<text x="716" y="737">Herstellkosten</text>
<text x="716" y="759">Verwaltungs- und Vertriebsgemeink.</text>
<text x="716" y="770">Selbstkosten</text>
<text x="716" y="792">Geplante Erlöse</text>
<text x="716" y="803">Geplanter Gewinn</text>
<text x="716" y="819">Selbstkosten pro Einheit</text>
<text x="716" y="835">Geplante Verkaufspreise netto pro Einheit</text>
<text x="716" y="851">Gewinn pro Einheit</text>
<text class="v" y="671.5"><tspan x="958">500</tspan><tspan x="1002">900</tspan><tspan x="1047">800</tspan><tspan x="1136">360</tspan><tspan x="1180">400</tspan><tspan x="1225">500</tspan></text>
<text class="v" y="688"><tspan x="868">545'560</tspan><tspan x="913">359'200</tspan><tspan x="1092">186'360</tspan><tspan x="1136">45'360</tspan><tspan x="1180">96'000</tspan><tspan x="1225">45'000</tspan></text>
<text class="v" y="699"><tspan x="868">361'720</tspan><tspan x="913">238'159</tspan><tspan x="1092">123'561</tspan><tspan x="1136">30'075</tspan><tspan x="1180">63'650</tspan><tspan x="1225">29'836</tspan><tspan x="1249">66.3%</tspan></text>
<text class="v" y="710"><tspan x="868">907'280</tspan><tspan x="913">597'359</tspan><tspan x="1092">309'921</tspan><tspan x="1136">75'435</tspan><tspan x="1180">159'650</tspan><tspan x="1225">74'836</tspan></text>
<text class="v" y="726"><tspan x="868">7'146'198</tspan><tspan x="913">4'573'600</tspan><tspan x="1092">2'572'598</tspan><tspan x="1136">756'406</tspan><tspan x="1180">729'788</tspan><tspan x="1225">1'086'404</tspan></text>
<text class="v" y="737"><tspan x="868">8'053'478</tspan><tspan x="913">5'170'959</tspan><tspan x="1092">2'882'519</tspan><tspan x="1136">831'841</tspan><tspan x="1180">889'438</tspan><tspan x="1225">1'161'240</tspan></text>
<text class="v" y="759"><tspan x="868">1'792'910</tspan><tspan x="913">1'151'188</tspan><tspan x="1092">641'722</tspan><tspan x="1136">185'189</tspan><tspan x="1180">198'012</tspan><tspan x="1225">258'522</tspan><tspan x="1249">22.3%</tspan></text>
<text class="v" y="770"><tspan x="868">9'846'388</tspan><tspan x="913">6'322'146</tspan><tspan x="1092">3'524'242</tspan><tspan x="1136">1'017'030</tspan><tspan x="1180">1'087'450</tspan><tspan x="1225">1'419'762</tspan></text>
<text class="v" y="792"><tspan x="868">9'842'400</tspan><tspan x="913">5'688'000</tspan><tspan x="958">1'550'000</tspan><tspan x="1002">2'466'000</tspan><tspan x="1047">1'672'000</tspan><tspan x="1092">4'154'400</tspan><tspan x="1136">1'274'400</tspan><tspan x="1180">1'240'000</tspan><tspan x="1225">1'640'000</tspan></text>
<text class="v" y="803"><tspan x="868">-3'988</tspan><tspan x="913">-634'146</tspan><tspan x="958">-101'439</tspan><tspan x="1002">-207'511</tspan><tspan x="1047">-325'196</tspan><tspan x="1092">630'158</tspan><tspan x="1136">257'370</tspan><tspan x="1180">152'550</tspan><tspan x="1225">220'238</tspan></text>
<text class="v" y="819"><tspan x="958">3'303</tspan><tspan x="1002">2'971</tspan><tspan x="1047">2'496</tspan><tspan x="1136">2'825</tspan><tspan x="1180">2'719</tspan><tspan x="1225">2'840</tspan></text>
<text class="v" y="835"><tspan x="958">3'100</tspan><tspan x="1002">2'740</tspan><tspan x="1047">2'090</tspan><tspan x="1136">3'540</tspan><tspan x="1180">3'100</tspan><tspan x="1225">3'280</tspan></text>
<text class="v" y="851"><tspan x="958">-203</tspan><tspan x="1002">-231</tspan><tspan x="1047">-406</tspan><tspan x="1136">715</tspan><tspan x="1180">381</tspan><tspan x="1225">440</tspan></text>
</g>

<!-- Clouds -->
<g id="c1"><use href="#cl" transform="translate(199.7,78.8) scale(1.1437,1.1695)"/><text class="cl" x="317" y="146">Leistungs- Erlösrechnung</text><text class="cl" x="318" y="163">-Planung</text></g>
<g id="c2"><use href="#cl" transform="translate(893.6,76.6) scale(1.1494,1.1864)"/><text class="cl" x="1017" y="145">Fall- Fertigungstabelle</text></g>
<g id="c3"><use href="#cl" transform="translate(57.8,324.6) scale(1.138,0.9831)"/><text class="cl" x="178" y="380" textLength="146">Anlagespiegel / Gewinn-</text><text class="cl" x="178" y="396" textLength="176">Investitionsbedarfsrechnung /</text><text class="cl" x="178" y="412">Reservenbildung</text></g>
<g id="c4"><use href="#cl" transform="translate(706.1,307.6) scale(1.1437,1.0847)"/><text class="cl" x="822" y="364" textLength="176">Fallplan- und -Erfolgsrechnung</text><text class="cl" x="822" y="393">Gesamt (DB II)</text><text class="cl" x="822" y="410">Versicherungsart (DB I)</text></g>
<g id="c5"><use href="#cl" transform="translate(379,551.8) scale(1.1264,1.0593)"/><text class="cl" x="495" y="618">Kostenstellen- Kostenarten-</text><text class="cl" x="495" y="635">Rechnung -Planung</text></g>
<g id="c6"><use href="#cl" transform="translate(-4.4,653.1) scale(1.1494,1.0339)"/><text class="cl" x="120" y="725">Vor- und Nachkalkulation</text><text class="cl" x="118" y="741">Fallkosten</text></g>
<g id="c7"><use href="#cl" transform="translate(860.7,661.1) scale(1.0805,1.1356)"/><text class="cl" x="973" y="723">Kostenträger- Rechnung -</text><text class="cl" x="973" y="740">Planung</text><text class="cl" x="973" y="757">zu Vollkosten</text></g>

<!-- Connectors -->
<g id="connectors" class="ar">
<polygon transform="translate(918,140) rotate(-0.33)" points="-514,-3.5 -21,-3.5 -21,-10 0,0 -21,10 -21,3.5 -514,3.5"/>
<polygon transform="translate(414,172) rotate(179.77)" points="-508,-3.5 -21,-3.5 -21,-10 0,0 -21,10 -21,3.5 -508,3.5"/>
<polygon transform="translate(437,576) rotate(37.79)" points="-236.6,-3.5 -21,-3.5 -21,-10 0,0 -21,10 -21,3.5 -236.6,3.5"/>
<polygon transform="translate(502,573) rotate(65.25)" points="-382.1,-3.5 -21,-3.5 -21,-10 0,0 -21,10 -21,3.5 -382.1,3.5"/>
<polygon transform="translate(893,702) rotate(41.52)" points="-721.2,-3.5 -21,-3.5 -21,-10 0,0 -21,10 -21,3.5 -721.2,3.5"/>
<polygon transform="translate(767,334) rotate(16.79)" points="-418.9,-3.5 -21,-3.5 -21,-10 0,0 -21,10 -21,3.5 -418.9,3.5"/>
<polygon transform="translate(960,205) rotate(-44.31)" points="-177.5,-3.5 -21,-3.5 -21,-10 0,0 -21,10 -21,3.5 -177.5,3.5"/>
<polygon transform="translate(1012,214) rotate(-85.98)" points="-471.2,-3.5 -21,-3.5 -21,-10 0,0 -21,10 -21,3.5 -471.2,3.5"/>
<polygon transform="translate(786,433) rotate(-34.83)" points="-264.4,-3.5 -21,-3.5 -21,-10 0,0 -21,10 -21,3.5 -264.4,3.5"/>
<polygon transform="translate(886,714) rotate(11.96)" points="-308.7,-3.5 -21,-3.5 -21,-10 0,0 -21,10 -21,3.5 -308.7,3.5"/>
<polygon transform="translate(196,690) rotate(168.85)" points="-217.1,-3.5 -21,-3.5 -21,-10 0,0 -21,10 -21,3.5 -217.1,3.5"/>
<polygon transform="translate(213,714) rotate(181.03)" points="-666.1,-3.5 -21,-3.5 -21,-10 0,0 -21,10 -21,3.5 -666.1,3.5"/>
<polygon transform="translate(916,688) rotate(74)" points="-253.8,0 -232.8,-10 -232.8,-3.5 -21,-3.5 -21,-10 0,0 -21,10 -21,3.5 -232.8,3.5 -232.8,10"/>
</g>
</svg>
